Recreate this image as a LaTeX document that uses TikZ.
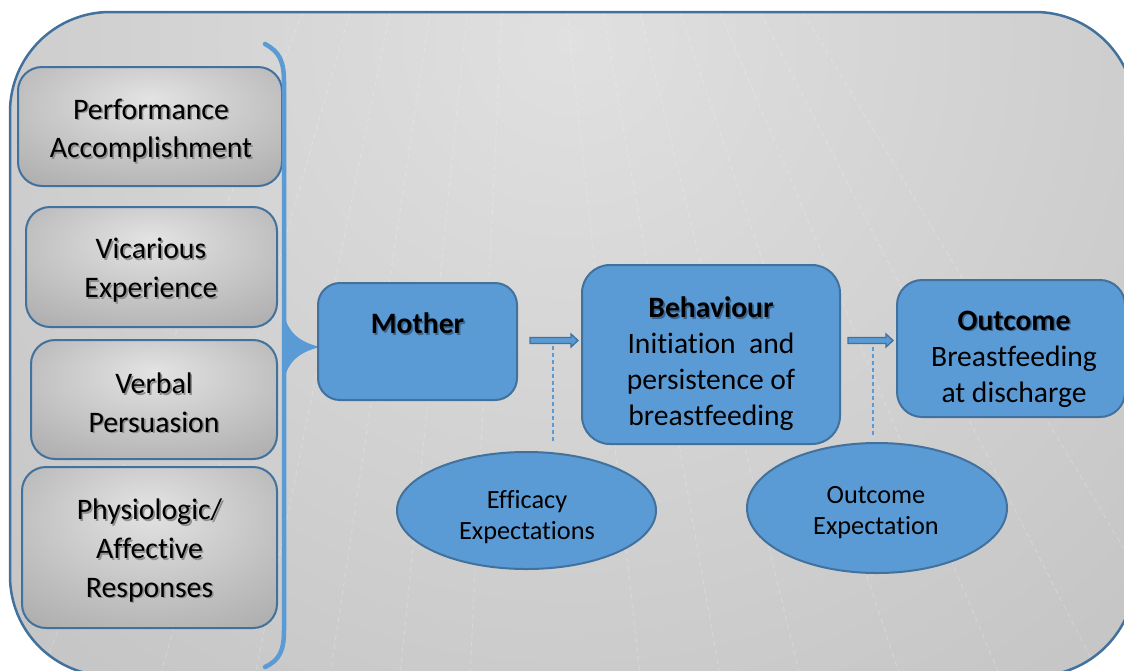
\documentclass[tikz,border=0pt]{standalone}
\usepackage{fontspec}
\setmainfont{Carlito}[Ligatures={NoCommon}]
\usetikzlibrary{calc,shapes.geometric}

\definecolor{fillblue}{HTML}{5B9BD5}
\definecolor{lineblue}{HTML}{41719C}
\definecolor{bglight}{HTML}{E0E0E0}
\definecolor{bgdark}{HTML}{AAAAAA}
\definecolor{boxlight}{HTML}{E3E3E3}
\definecolor{boxdark}{HTML}{A6A6A6}
\definecolor{greyshadow}{HTML}{8E8E8E}
\definecolor{blueshadow}{HTML}{3A6690}

% soft panel gradient, brightest a little above the middle
\pgfdeclareradialshading{panelshade}{\pgfpoint{0bp}{12bp}}{color(0bp)=(boxlight); color(44bp)=(boxdark); color(80bp)=(boxdark)}
% backdrop gradient
\pgfdeclareradialshading{bgshade}{\pgfpoint{0bp}{0bp}}{color(0bp)=(bglight); color(50bp)=(bgdark)}

% text with a small drop shadow behind it
\newcommand\shd[2][greyshadow]{\leavevmode\rlap{\kern1.6pt\raisebox{-1.6pt}{\textcolor{#1}{#2}}}#2}

\newcommand\blockarrow[2]{%
  \filldraw[arrowbody] let \p1=(#1), \p2=(#2) in
    (\x1,\y1+3pt) -- (\x2-7pt,\y1+3pt) -- (\x2-7pt,\y1+6.5pt) -- (\x2,\y1)
    -- (\x2-7pt,\y1-6.5pt) -- (\x2-7pt,\y1-3pt) -- (\x1,\y1-3pt) -- cycle;}

\tikzset{
  sourcebox/.style={draw=lineblue, line width=2pt, rounded corners=24pt,
    shade, shading=panelshade, inner sep=0pt},
  sourcetext/.style={align=center, inner sep=0pt, font=\fontsize{29.8}{38.7}\selectfont},
  bluebox/.style={draw=lineblue, line width=2pt, fill=fillblue, inner sep=0pt},
  boxtext/.style={align=center, inner sep=0pt, font=\fontsize{29.6}{36}\selectfont},
  expect/.style={ellipse, draw=lineblue, line width=2pt, fill=fillblue, inner sep=0pt},
  expecttext/.style={align=center, inner sep=0pt, font=\fontsize{26.3}{31}\selectfont},
  arrowbody/.style={fill=fillblue, draw=lineblue, line width=1.3pt, line join=miter},
  guide/.style={draw=fillblue, line width=1.5pt, dash pattern=on 4pt off 3pt},
  brace/.style={draw=fillblue, line width=4.5pt, line cap=round},
  streak/.style={draw=white, opacity=0.22, line width=0.9pt, dash pattern=on 5pt off 4pt},
}

\begin{document}
\begin{tikzpicture}[x=1pt, y=-1pt]
\useasboundingbox (0,0) rectangle (1124,670);

% backdrop panel with its faint streaks
\begin{scope}
  \clip[rounded corners=100pt] (10,12) rectangle (1135,676);
  \shade[shading=bgshade] (570,40) circle[radius=820];
  \foreach \t/\b in {303/40, 350/160, 390/255, 430/330, 467/400, 502/470,
                     567/640, 603/720, 640/800, 680/900, 720/1000, 760/1100, 803/1200}
    \draw[streak] (\t,12) -- (\b,676);
\end{scope}
\draw[lineblue, line width=2.5pt, rounded corners=100pt] (10,12) rectangle (1135,676);

% sources of self-efficacy
\node[sourcebox, minimum width=264pt, minimum height=119pt] (perf) at (150,126.5) {};
\node[sourcebox, minimum width=251pt, minimum height=120pt] (vic) at (151.5,267) {};
\node[sourcebox, minimum width=246pt, minimum height=119pt] (verb) at (154,399.5) {};
\node[sourcebox, minimum width=255pt, minimum height=161pt] (phys) at (149.5,547.5) {};
\node[sourcetext] (perftxt) at ($(perf.center)+(1,5)$) {\shd{Performance}\\\shd{Accomplishment}};
\node[sourcetext] (victxt) at ($(vic.center)+(-0.5,4)$) {\shd{Vicarious}\\\shd{Experience}};
\node[sourcetext] (verbtxt) at ($(verb.center)+(0,4)$) {\shd{Verbal}\\\shd{Persuasion}};
\node[sourcetext] (phystxt) at ($(phys.center)+(0,4)$) {\shd{Physiologic/}\\\shd{Affective}\\\shd{Responses}};

% brace gathering the sources
\draw[brace] (265,44) .. controls (280,52) and (284,62) .. (284,82)
  -- (284,630) .. controls (284,650) and (280,660) .. (265,667);
\fill[fillblue] (282,300) .. controls (284,330) and (296,341) .. (320,347)
  .. controls (296,353) and (284,364) .. (282,394) -- cycle;

% main chain
\node[bluebox, rounded corners=22pt, minimum width=199pt, minimum height=117pt] (mother) at (417.5,341.5) {};
\node[bluebox, rounded corners=28pt, minimum width=258pt, minimum height=179pt] (behaviour) at (711,354.5) {};
\node[bluebox, rounded corners=25pt, minimum width=228pt, minimum height=137pt] (outcome) at (1011,348.5) {};

\node[boxtext, font=\fontsize{29.6}{36}\selectfont\bfseries] (mothertxt) at (417.5,324) {\shd[blueshadow]{Mother}};
\node[boxtext] (behtxt) at (711,364) {\textbf{\shd[blueshadow]{Behaviour}}\\Initiation\ \ and\\persistence of\\breastfeeding};
\node[boxtext] (outtxt) at (1014,359) {\textbf{\shd[blueshadow]{Outcome}}\\Breastfeeding\\at discharge};

% expectations
\node[expect, minimum width=259pt, minimum height=117pt] (efficacy) at (526.5,510.5) {};
\node[expect, minimum width=260pt, minimum height=130pt] (outexp) at (877,508) {};
\node[expecttext] (efftxt) at ($(efficacy.center)+(0.5,6.5)$) {Efficacy\\Expectations};
\node[expecttext] (oetxt) at ($(outexp.center)+(-1,5)$) {Outcome\\Expectation};

% arrows between the stages
\coordinate (a1s) at ($(mother.east)+(12,-1)$);
\coordinate (a1e) at ($(behaviour.west |- a1s)+(-3,0)$);
\coordinate (a2s) at ($(behaviour.east |- a1s)+(7,0)$);
\coordinate (a2e) at ($(outcome.west |- a1s)+(-3,0)$);
\blockarrow{a1s}{a1e}
\blockarrow{a2s}{a2e}

% dashed links from arrows to expectations
\coordinate (d1t) at ($(a1s)+(23,5)$);
\coordinate (d1b) at ($(d1t |- efficacy.north)+(0,-9)$);
\coordinate (d2t) at ($(a2s)+(25,6)$);
\coordinate (d2b) at ($(d2t |- outexp.north)+(0,-5)$);
\draw[guide] (d1t) -- (d1b);
\draw[guide] (d2t) -- (d2b);
\end{tikzpicture}
\end{document}
